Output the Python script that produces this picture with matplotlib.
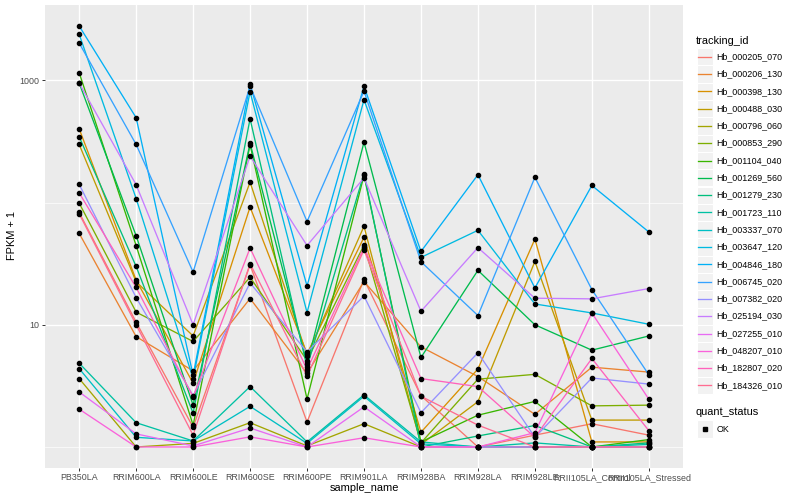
import matplotlib
matplotlib.use("Agg")
import matplotlib.pyplot as plt
from matplotlib.patches import Rectangle
from matplotlib.lines import Line2D
from matplotlib.ticker import NullFormatter

plt.rcParams["font.family"] = ["Liberation Sans", "DejaVu Sans"]

samples = ["PB350LA", "RRIM600LA", "RRIM600LE", "RRIM600SE", "RRIM600PE", "RRIM901LA",
           "RRIM928BA", "RRIM928LA", "RRIM928LE", "RRII105LA_Control", "RRII105LA_Stressed"]

tracking_ids = ["Hb_000205_070", "Hb_000206_130", "Hb_000398_130", "Hb_000488_030",
                "Hb_000796_060", "Hb_000853_290", "Hb_001104_040", "Hb_001269_560",
                "Hb_001279_230", "Hb_001723_110", "Hb_003337_070", "Hb_003647_120",
                "Hb_004846_180", "Hb_006745_020", "Hb_007382_020", "Hb_025194_030",
                "Hb_027255_010", "Hb_048207_010", "Hb_182807_020", "Hb_184326_010"]

# FPKM + 1, one list per gene, in sample order
hb_000205_070 = [83, 10.5, 1.45, 31, 1.6, 23.5, 2.63, 1.0, 1.25, 1.55, 1.25]
hb_000206_130 = [56, 8.0, 4.2, 16.4, 4.0, 22.6, 6.6, 3.77, 1.85, 4.5, 4.1]
hb_000398_130 = [402, 23.2, 3.33, 92, 5.8, 52, 1.32, 4.35, 50.3, 1.1, 1.1]
hb_000488_030 = [299, 22.5, 8.1, 147, 5.6, 64, 1.05, 2.35, 33, 1.66, 1.66]
hb_000796_060 = [3.63, 1.0, 1.07, 1.58, 1.02, 1.55, 1.0, 1.0, 1.0, 1.0, 1.0]
hb_000853_290 = [99, 12.7, 7.3, 24.5, 5.1, 45, 1.08, 3.59, 3.93, 2.17, 2.2]
hb_001104_040 = [1156, 44.5, 1.51, 297, 2.47, 167, 1.1, 1.82, 2.36, 1.0, 1.15]
hb_001269_560 = [951, 53.5, 2.2, 306, 4.8, 312, 5.4, 27.9, 10, 6.2, 8.1]
hb_001279_230 = [346, 30, 1.89, 485, 4.5, 173, 1.0, 1.23, 1.5, 1.0, 1.08]
hb_001723_110 = [4.85, 1.58, 1.12, 3.12, 1.1, 2.67, 1.1, 1.0, 1.08, 1.0, 1.05]
hb_003337_070 = [4.38, 1.2, 1.12, 2.15, 1.07, 2.6, 1.06, 1.0, 1.0, 1.0, 1.0]
hb_003647_120 = [2383, 108, 3.63, 808, 12.6, 695, 35.6, 59.3, 14.8, 12.5, 10.1]
hb_004846_180 = [2786, 495, 3.87, 935, 20.8, 897, 39.8, 169, 20, 138, 57.5]
hb_006745_020 = [2022, 299, 27, 897, 70, 817, 32.8, 11.9, 161, 19.4, 3.9]
hb_007382_020 = [141, 16.7, 2.63, 22, 6.0, 17.2, 1.91, 5.9, 1.2, 3.67, 3.27]
hb_025194_030 = [951, 140, 10, 240, 44.5, 159, 12.9, 42.8, 16.5, 16.3, 19.8]
hb_027255_010 = [2.82, 1.28, 1.02, 1.43, 1.0, 2.13, 1.0, 1.0, 1.0, 1.0, 1.0]
hb_048207_010 = [2.04, 1.0, 1.0, 1.21, 1.0, 1.19, 1.0, 1.0, 1.31, 12.5, 2.46]
hb_182807_020 = [120, 20.2, 2.57, 42.5, 4.3, 43, 3.63, 3.12, 1.2, 5.3, 1.36]
hb_184326_010 = [81, 10, 1.25, 31.6, 3.8, 41, 2.6, 1.51, 1.0, 1.0, 1.0]

values = [hb_000205_070, hb_000206_130, hb_000398_130, hb_000488_030, hb_000796_060,
          hb_000853_290, hb_001104_040, hb_001269_560, hb_001279_230, hb_001723_110,
          hb_003337_070, hb_003647_120, hb_004846_180, hb_006745_020, hb_007382_020,
          hb_025194_030, hb_027255_010, hb_048207_010, hb_182807_020, hb_184326_010]

# ggplot2 default hue palette, 20 levels
colors = ["#F8766D", "#EA8331", "#D89000", "#C09B00", "#A3A500", "#7CAE00", "#39B600",
          "#00BB4E", "#00BF7D", "#00C1A3", "#00BFC4", "#00BAE0", "#00B0F6", "#35A2FF",
          "#9590FF", "#C77CFF", "#E76BF3", "#FA62DB", "#FF62BC", "#FF6C91"]

W, H = 800, 500
def fx(px):
    return px / W
def fy(py):
    return 1 - py / H

fig = plt.figure(figsize=(8, 5), dpi=100)
ax = fig.add_axes([fx(45), fy(468), (683 - 45) / W, (468 - 5) / H])
ax.set_facecolor("#EBEBEB")
for s in ax.spines.values():
    s.set_visible(False)

x = list(range(len(samples)))
for vals, c in zip(values, colors):
    ax.plot(x, vals, color=c, lw=0.95, zorder=2)
for vals in values:
    ax.plot(x, vals, ls="none", marker="o", ms=3.0, color="black", zorder=3)

ax.set_yscale("log")
ax.set_ylim(10 ** -0.172, 10 ** 3.617)
ax.set_xlim(-0.6, len(samples) - 0.4)

ax.set_yticks([10, 1000])
ax.set_yticklabels(["10", "1000"])
ax.set_yticks([1, 100], minor=True)
ax.yaxis.set_minor_formatter(NullFormatter())
ax.set_xticks(x)
ax.set_xticklabels(samples)

ax.grid(which="major", color="white", lw=1.0, zorder=0)
ax.grid(which="minor", axis="y", color="white", lw=0.5, zorder=0)
ax.set_axisbelow(True)
ax.tick_params(which="major", length=2.2, width=0.7, color="#333333",
               labelcolor="#4D4D4D", labelsize=6.4, pad=1.6)
ax.tick_params(which="minor", length=0)

fig.text(fx(364), fy(488), "sample_name", ha="center", va="center", fontsize=7.9)
fig.text(fx(12), fy(236), "FPKM + 1", ha="center", va="center", rotation=90, fontsize=7.9)

# legend: tracking_id
fig.text(fx(696), fy(40.7), "tracking_id", ha="left", va="center", fontsize=7.9)
step = 17.3
for i, (name, c) in enumerate(zip(tracking_ids, colors)):
    cy = 56.7 + step * i
    fig.patches.append(Rectangle((fx(696.7), fy(cy + 8.6)), 16.3 / W, 17.2 / H,
                                 transform=fig.transFigure, fc="#F2F2F2", ec="white", lw=0.8))
    fig.lines.append(Line2D([fx(698.3), fx(711.3)], [fy(cy), fy(cy)],
                            transform=fig.transFigure, color=c, lw=0.95))
    fig.text(fx(716.7), fy(cy), name, ha="left", va="center", fontsize=6.4)

# legend: quant_status
fig.text(fx(696), fy(412.3), "quant_status", ha="left", va="center", fontsize=7.9)
fig.patches.append(Rectangle((fx(696.7), fy(429 + 8.6)), 16.3 / W, 17.2 / H,
                             transform=fig.transFigure, fc="#F2F2F2", ec="white", lw=0.8))
fig.lines.append(Line2D([fx(704.8)], [fy(429)], transform=fig.transFigure,
                        marker="s", ms=2.6, color="black", ls="none"))
fig.text(fx(716.7), fy(429), "OK", ha="left", va="center", fontsize=6.4)

fig.savefig("out.png", dpi=100)
